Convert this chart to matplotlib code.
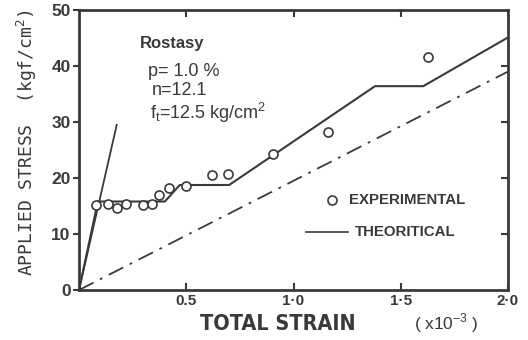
import matplotlib
matplotlib.use("Agg")
import matplotlib.pyplot as plt
from matplotlib import font_manager

# experimental points (strain x1e-3, stress kgf/cm2)
exp_strain = [0.078, 0.137, 0.179, 0.219, 0.30, 0.342, 0.373, 0.42, 0.497,
              0.62, 0.696, 0.904, 1.162, 1.628]
exp_stress = [15.2, 15.3, 14.7, 15.3, 15.1, 15.3, 17.0, 18.2, 18.6,
              20.5, 20.8, 24.3, 28.3, 41.6]

# theoretical curve
theo_strain = [0.0, 0.088, 0.40, 0.47, 0.70, 1.38, 1.605, 2.0]
theo_stress = [0.0, 15.8, 15.8, 18.75, 18.75, 36.4, 36.4, 45.1]

# uncracked line and plain concrete (dash-dot) line
steep_strain = [0.0, 0.176]
steep_stress = [0.0, 29.5]
dd_strain = [0.0, 2.0]
dd_stress = [0.0, 39.0]

xticks = [0.5, 1.0, 1.5, 2.0]
xticklabels = ["0.5", "1·0", "1·5", "2·0"]
yticks = [0, 10, 20, 30, 40, 50]

ink = "#3a3a3a"
plt.rcParams["font.family"] = ["Liberation Sans", "DejaVu Sans"]

# condensed face if one is installed
cond = [f for f in font_manager.fontManager.ttflist
        if f.stretch in ("condensed", "semi-condensed", 300)
        and f.weight in ("bold", 700)]
cond_family = cond[0].name if cond else None

fig = plt.figure(figsize=(5.28, 3.40), dpi=100)
ax = fig.add_axes([79/528, 1-290/340, (508-79)/528, (290-10)/340])

ax.plot(theo_strain, theo_stress, color=ink, lw=1.5)
ax.plot(steep_strain, steep_stress, color=ink, lw=1.3)
ax.plot(dd_strain, dd_stress, color=ink, lw=1.3, dashes=[9, 4, 1.5, 4])
ax.plot(exp_strain, exp_stress, "o", mfc="white", mec=ink, ms=6.5, mew=1.2,
        linestyle="none")

ax.set_xlim(0, 2.0)
ax.set_ylim(0, 50)
for s in ax.spines.values():
    s.set_linewidth(2)
    s.set_color(ink)

ax.set_xticks(xticks)
ax.set_xticklabels(xticklabels, fontsize=11, fontweight="bold", color=ink)
ax.set_yticks(yticks)
ax.set_yticklabels([str(v) for v in yticks], fontsize=12.5, fontweight="bold",
                   color=ink)
ax.tick_params(axis="x", direction="in", top=True, length=5, width=1.5,
               color=ink, pad=3)
ax.tick_params(axis="y", direction="out", length=4, width=1.5, color=ink,
               pad=2)
# inward ticks on the right side
ax2 = ax.twinx()
ax2.set_ylim(0, 50)
ax2.set_yticks([10, 20, 30, 40])
ax2.tick_params(axis="y", direction="in", length=5, width=1.5, color=ink,
                labelright=False)
ax2.spines[:].set_visible(False)

ax.text(0.285, 44.0, "Rostasy", fontsize=12, fontweight="bold", color=ink,
        va="center")
ax.text(0.32, 39.0, "p= 1.0 %", fontsize=13, color=ink, va="center")
ax.text(0.34, 35.6, "n=12.1", fontsize=13, color=ink, va="center")
ax.text(0.33, 31.6, "f$_\\mathregular{t}$=12.5 kg/cm$^\\mathregular{2}$",
        fontsize=13, color=ink, va="center")

# legend drawn by hand
ax.plot([1.18], [16.1], "o", mfc="white", mec=ink, ms=6.5, mew=1.2)
ax.text(1.26, 16.1, "EXPERIMENTAL", fontsize=10.8, fontweight="bold",
        color=ink, va="center")
ax.plot([1.06, 1.255], [10.4, 10.4], color=ink, lw=1.2)
ax.text(1.285, 10.4, "THEORITICAL", fontsize=10.8, fontweight="bold",
        color=ink, va="center")

fig.text(27/528, 1-143/340, "APPLIED STRESS  (kgf/cm$^\\mathregular{2}$)",
         rotation=90, fontsize=13, family="DejaVu Sans Mono", color=ink,
         ha="center", va="center")
if cond_family:
    fig.text(278/528, 1-324/340, "TOTAL STRAIN", fontsize=15.5,
             fontweight="bold", family=cond_family, fontstretch="condensed",
             color=ink, ha="center", va="center")
else:
    fig.text(278/528, 1-324/340, "TOTAL STRAIN", fontsize=14,
             fontweight="bold", color=ink, ha="center", va="center")
fig.text(446/528, 1-323/340, "( x10$^{\\mathregular{-3}}$ )", fontsize=12.5,
         color=ink, ha="center", va="center")

fig.savefig("out.png", dpi=100)
plt.close(fig)
